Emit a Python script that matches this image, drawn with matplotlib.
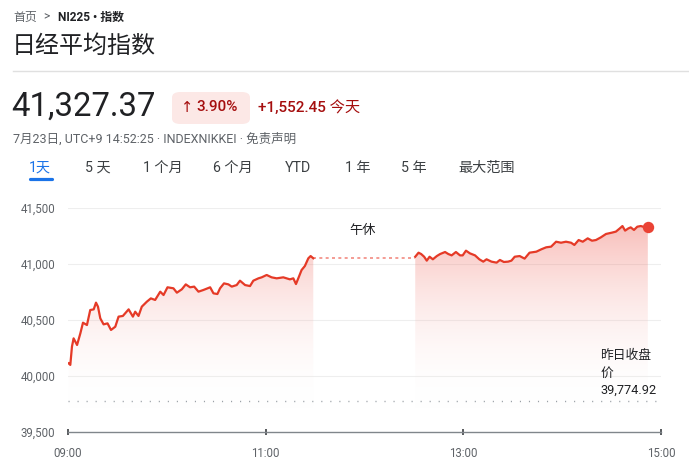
import matplotlib
matplotlib.use("Agg")
import matplotlib.pyplot as plt
import numpy as np
from matplotlib.patches import FancyBboxPatch, Polygon
from matplotlib.colors import LinearSegmentedColormap
from matplotlib.ticker import FuncFormatter, FixedLocator

plt.rcParams['font.family'] = ['Roboto', 'Noto Sans CJK SC', 'DejaVu Sans']

# ---- data (minutes after 09:00, index value) ----
am_min = [0.4, 1.4, 2.4, 3.4, 5.5, 7.5, 9.1, 11.5, 13.5, 15.6, 17.0, 18.2, 19.6, 21.6,
          24.0, 26.1, 28.7, 30.7, 33.3, 36.8, 39.4, 40.8, 42.8, 44.8, 47.9, 50.3, 52.9,
          56.0, 58.0, 60.4, 64.0, 66.1, 69.1, 71.5, 74.1, 76.6, 79.2, 82.2, 86.3,
          88.3, 90.7, 92.3, 94.7, 97.4, 99.4, 102.4, 104.4, 107.5, 110.5, 112.5,
          115.6, 117.6, 120.6, 123.6, 126.7, 130.7, 134.7, 136.8, 138.4, 139.8,
          141.8, 143.8, 145.9, 147.3, 148.9]
am_val = [40113, 40099, 40262, 40336, 40277, 40381, 40476, 40455, 40589, 40595,
          40655, 40619, 40515, 40461, 40470, 40411, 40440, 40530, 40536, 40595,
          40530, 40574, 40536, 40619, 40664, 40693, 40679, 40753, 40723, 40792,
          40783, 40744, 40774, 40818, 40792, 40798, 40753, 40768, 40792, 40738,
          40732, 40783, 40827, 40818, 40798, 40812, 40851, 40812, 40803, 40851,
          40872, 40881, 40902, 40881, 40872, 40881, 40863, 40872, 40821, 40872,
          40946, 40982, 41051, 41071, 41051]
pm_min = [210.8, 212.8, 214.4, 216.2, 217.8, 219.5, 221.5, 223.9, 225.9, 228.9,
          230.9, 232.9, 235.5, 238, 239.6, 241.6, 244, 247.1, 249.7, 252.1, 254.1,
          257.1, 260.2, 262.2, 264.6, 267.2, 269.2, 271.2, 274.2, 277.2, 280.2,
          284.3, 287.3, 290.3, 293.3, 296.3, 299.3, 302.3, 305.4, 307.4, 310,
          312.5, 315.5, 318.1, 320.5, 323.5, 326.6, 330.2, 332.6, 335, 336.6,
          338.2, 340.2, 341.6, 343.6, 345.6, 347.7, 350.7, 352]
pm_val = [41065, 41101, 41089, 41065, 41030, 41065, 41042, 41071, 41089, 41107,
          41089, 41077, 41107, 41077, 41077, 41119, 41095, 41077, 41042, 41021,
          41042, 41021, 41012, 41036, 41018, 41021, 41030, 41065, 41071, 41048,
          41101, 41110, 41131, 41149, 41155, 41199, 41190, 41199, 41190, 41170,
          41214, 41199, 41229, 41208, 41214, 41238, 41268, 41280, 41289, 41318,
          41339, 41298, 41318, 41327, 41304, 41333, 41339, 41327, 41327.37]
prev_close = 39774.92
x_ticks = [0, 120, 240, 360]
x_labels = ["09:00", "11:00", "13:00", "15:00"]
y_ticks = [39500, 40000, 40500, 41000, 41500]
tabs = ["1天", "5 天", "1 个月", "6 个月", "YTD", "1 年", "5 年", "最大范围"]
tab_x = [29, 85, 143, 213, 285, 345, 401, 458]

W, H = 689, 467
fig = plt.figure(figsize=(W / 100, H / 100), dpi=100)
fig.patch.set_facecolor("white")

def fx(px):
    return px / W

def fy(py):
    return 1 - py / H

RED = "#e53a27"
DARK = "#202124"
GREY = "#5f6368"
PCOL = "#a50e0e"

# ---- header texts ----
fig.text(fx(13), fy(17), "首页", fontsize=8.6, color=GREY, va="center", ha="left")
fig.text(fx(43), fy(17), ">", fontsize=8.6, color=GREY, va="center", ha="left")
fig.text(fx(58), fy(17), "NI225 • 指数", fontsize=8.6, color=DARK, va="center",
         ha="left", fontweight="bold")
fig.text(fx(12), fy(46), "日经平均指数", fontsize=17.3, color=DARK, va="center", ha="left")
fig.add_artist(plt.Line2D([fx(13), fx(689)], [fy(71), fy(71)], color="#e0e0e0", lw=1))
fig.text(fx(11), fy(107), "41,327.37", fontsize=23.7, color=DARK, va="center", ha="left")
badge = FancyBboxPatch((fx(172), fy(124)), fx(78), 32 / H,
                       boxstyle="round,pad=0,rounding_size=0.012",
                       transform=fig.transFigure, facecolor="#fce8e6", edgecolor="none")
fig.add_artist(badge)
fig.text(fx(181), fy(107), "↑", fontsize=10.5, color=PCOL, va="center", ha="left",
         family=["DejaVu Sans"])
fig.text(fx(196), fy(107), "3.90%", fontsize=11, color=PCOL, va="center", ha="left",
         fontweight="medium")
fig.text(fx(258), fy(107), "+1,552.45 今天", fontsize=11, color=PCOL, va="center",
         ha="left", fontweight="medium")
fig.text(fx(13), fy(139), "7月23日, UTC+9 14:52:25 · INDEXNIKKEI · 免责声明",
         fontsize=9, color=GREY, va="center", ha="left")

# ---- tabs ----
for i, (t, x) in enumerate(zip(tabs, tab_x)):
    col = "#1a73e8" if i == 0 else "#3c4043"
    fig.text(fx(x), fy(168), t, fontsize=10.2, color=col, va="center", ha="left")
fig.add_artist(plt.Line2D([fx(30), fx(52)], [fy(178.5), fy(178.5)], color="#1a73e8", lw=2.3,
                          solid_capstyle="round"))

# ---- chart ----
ax = fig.add_axes([fx(68), fy(432), fx(661 - 68), (432 - 208) / H])
ax.set_xlim(0, 360)
ax.set_ylim(39500, 41500)
for s in ["top", "right", "left"]:
    ax.spines[s].set_visible(False)
ax.spines["bottom"].set_color("#80868b")
ax.spines["bottom"].set_linewidth(1)
ax.set_facecolor("none")

ax.yaxis.set_major_locator(FixedLocator(y_ticks))
ax.yaxis.set_major_formatter(FuncFormatter(lambda v, p: f"{int(v):,}"))
ax.tick_params(axis="y", length=0, pad=9, labelsize=8.3, labelcolor=GREY)
ax.set_xticks(x_ticks)
ax.set_xticklabels(x_labels)
ax.tick_params(axis="x", length=5, width=1.2, color="#3c4043", pad=8,
               labelsize=8.3, labelcolor=GREY, direction="inout")
for yv in y_ticks[1:]:
    ax.axhline(yv, color="#eeeeee", lw=0.8, zorder=0)

# gradient fill
cmap = LinearSegmentedColormap.from_list(
    "g", [(1, 1, 1, 0), (0.93, 0.30, 0.25, 0.40)])
grad_lo, grad_hi = 39700, 41450
grad = np.linspace(0, 1, 256).reshape(-1, 1)
for xs, ys in [(am_min, am_val), (pm_min, pm_val)]:
    verts = [(xs[0], grad_lo)] + list(zip(xs, ys)) + [(xs[-1], grad_lo)]
    poly = Polygon(verts, closed=True, facecolor="none", edgecolor="none",
                   transform=ax.transData)
    ax.add_patch(poly)
    im = ax.imshow(grad, extent=[0, 360, grad_lo, grad_hi], origin="lower",
                   aspect="auto", cmap=cmap, zorder=1, interpolation="bilinear")
    im.set_clip_path(poly)
    ax.plot(xs, ys, color=RED, lw=1.6, zorder=3, solid_joinstyle="round")

ax.set_xlim(0, 360)
ax.set_ylim(39500, 41500)

# lunch break dotted line
ax.plot([am_min[-1], pm_min[0]], [am_val[-1] + 6, am_val[-1] + 6], color="#f28b82",
        lw=1.2, ls=(0, (1.8, 2.0)), zorder=2)
# prev close dotted line
ax.plot([0, 360], [prev_close, prev_close], color="#9aa0a6", lw=1,
        ls=(0, (0.8, 5.7)), zorder=2)
# end point
ax.plot([pm_min[-1]], [pm_val[-1]], "o", color="#ea4335", ms=8.2, zorder=4,
        markeredgewidth=0)

ax.text(171, 41295, "午休", fontsize=9.5, color=DARK, va="center", ha="left")
ax.text(323, 40187, "昨日收盘", fontsize=9.2, color=DARK, va="center", ha="left")
ax.text(323, 40027, "价", fontsize=9.2, color=DARK, va="center", ha="left")
ax.text(323, 39875, "39,774.92", fontsize=9.2, color=DARK, va="center", ha="left")

fig.savefig("out.png", dpi=100, facecolor="white")
